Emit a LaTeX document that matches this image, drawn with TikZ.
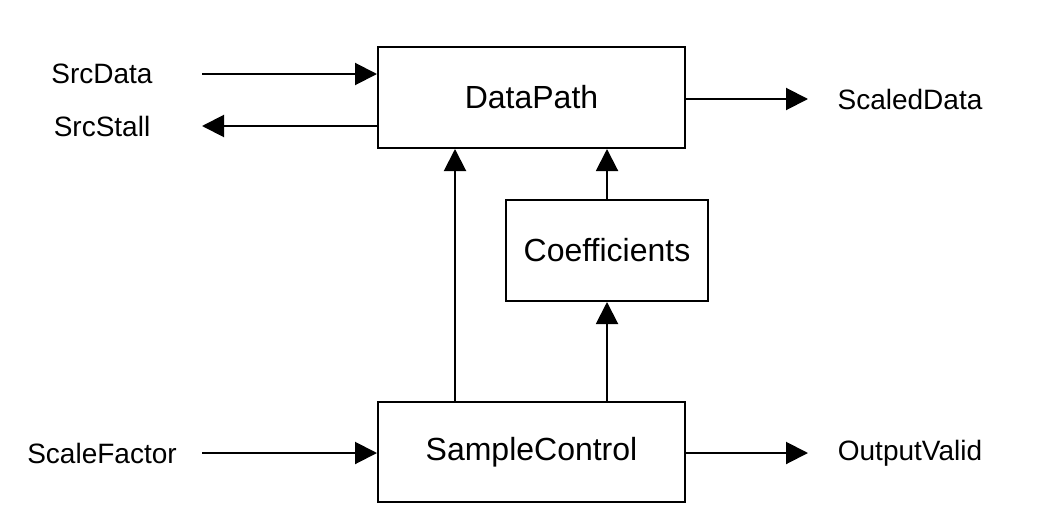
\documentclass[tikz,border=0pt]{standalone}
\usepackage{fontspec}
\setmainfont{Liberation Sans}
\usetikzlibrary{arrows.meta}
\begin{document}
\begin{tikzpicture}[x=1pt,y=-1pt,
  blk/.style={draw, line width=2pt, inner sep=0pt, font=\fontsize{32}{38}\selectfont},
  lbl/.style={font=\fontsize{28}{33}\selectfont, inner sep=0pt},
  conn/.style={line width=2pt, -{Triangle[length=22pt,width=22pt]}}]
\useasboundingbox (0,0) rectangle (1056,527);
\node[blk, minimum width=307pt, minimum height=101pt] (dp) at (531.5,97.5) {DataPath};
\node[blk, minimum width=202pt, minimum height=101pt] (co) at (607,250.5) {Coefficients};
\node[blk, minimum width=307pt, minimum height=100pt] (sc) at (531.5,452) {SampleControl};
\node[lbl] (srcdata) at (102,74) {SrcData};
\node[lbl] (srcstall) at (102,126) {SrcStall};
\node[lbl] (scalef) at (102,453) {ScaleFactor};
\node[lbl] (scaled) at (910,99) {ScaledData};
\node[lbl] (outv) at (910,453) {OutputValid};
\coordinate (a1) at (202,74);
\coordinate (a2) at (202,126);
\coordinate (a3) at (202,453);
\coordinate (a4) at (808,99);
\coordinate (a5) at (808,453);
\draw[conn] (a1) -- (a1 -| dp.west);
\draw[conn] (a2 -| dp.west) -- (a2);
\draw[conn] (a3) -- (a3 -| sc.west);
\draw[conn] (a4 -| dp.east) -- (a4);
\draw[conn] (a5 -| sc.east) -- (a5);
\draw[conn] (sc.north -| 455,0) -- (dp.south -| 455,0);
\draw[conn] (co.north) -- (co.north |- dp.south);
\draw[conn] (sc.north -| co.south) -- (co.south);
\end{tikzpicture}
\end{document}
